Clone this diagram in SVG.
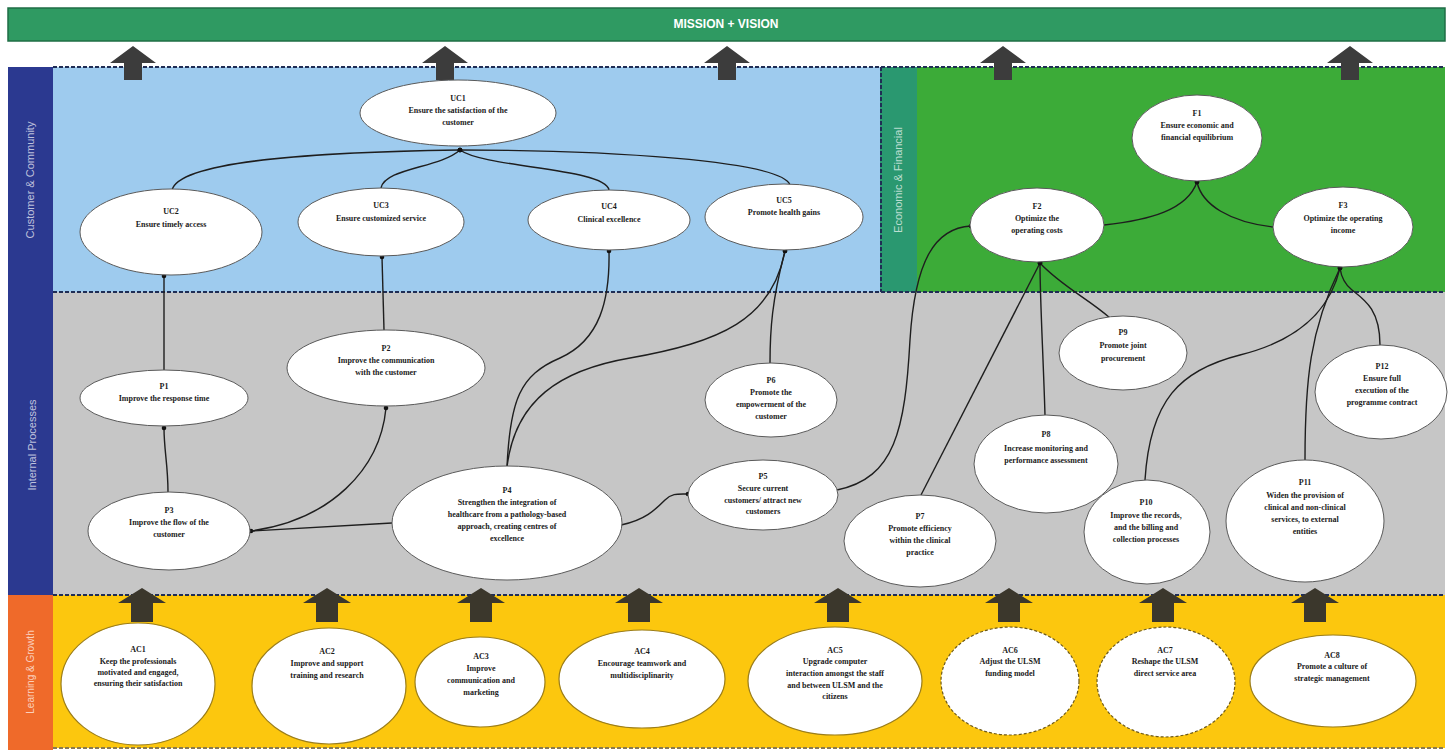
<svg xmlns="http://www.w3.org/2000/svg" width="1451" height="752" viewBox="0 0 1451 752">
<style>
.nt{font-family:"Liberation Serif","Times New Roman",serif;font-size:8px;font-weight:bold;fill:#1a1a1a;text-anchor:middle}
.bl{font-family:"Liberation Sans",Arial,sans-serif;font-size:11px;fill:#ffffff;fill-opacity:0.7;text-anchor:middle}
.el{fill:#ffffff;stroke:#5a5a5a;stroke-width:1}
.ea{fill:#ffffff;stroke:#9a7d1c;stroke-width:1.2}
.ed{fill:#ffffff;stroke:#6e5a1a;stroke-width:1.2;stroke-dasharray:3 2}
.cn{fill:none;stroke:#1e1e1e;stroke-width:1.4;marker-end:url(#dot)}
.dl{stroke:#1f2d55;stroke-width:2;stroke-dasharray:4 2;fill:none}
.ar{fill:#3c3c3c}
.ab{fill:#3b372c}
</style>
<defs>
<marker id="dot" viewBox="0 0 6 6" refX="3" refY="3" markerWidth="6" markerHeight="6" markerUnits="userSpaceOnUse"><circle cx="3" cy="3" r="2.3" fill="#111"/></marker>
</defs>
<rect width="1451" height="752" fill="#ffffff"/>
<!-- bands -->
<g id="mission">
<rect x="8" y="8" width="1437" height="33" fill="#2f9a62" stroke="#1f6e45" stroke-width="1.5"/>
<text x="726" y="28" font-family="Liberation Sans,Arial,sans-serif" font-size="12" font-weight="bold" fill="#ffffff" text-anchor="middle">MISSION + VISION</text>
</g>
<g id="band-customer">
<rect x="53" y="67" width="827" height="225" fill="#9ecbee"/>
<rect x="8" y="67" width="45" height="225" fill="#2b3990"/>
<text class="bl" transform="translate(34,180) rotate(-90)">Customer &amp; Community</text>
</g>
<g id="band-economic">
<rect x="917" y="67" width="528" height="225" fill="#3cab38"/>
<rect x="880" y="67" width="37" height="225" fill="#2a9870"/>
<text class="bl" transform="translate(902,180) rotate(-90)">Economic &amp; Financial</text>
<line x1="881" y1="67" x2="881" y2="292" class="dl"/>
</g>
<g id="band-internal">
<rect x="53" y="292" width="1392" height="303" fill="#c6c6c6"/>
<rect x="8" y="292" width="45" height="303" fill="#2b3990"/>
<text class="bl" transform="translate(36,445) rotate(-90)">Internal Processes</text>
</g>
<g id="band-learning">
<rect x="53" y="595" width="1392" height="153" fill="#fcc70e"/>
<rect x="8" y="595" width="45" height="155" fill="#ef6a2a"/>
<text class="bl" style="font-size:10px" transform="translate(34,672) rotate(-90)">Learning &amp; Growth</text>
</g>
<g id="dashes">
<line x1="53" y1="67" x2="1445" y2="67" class="dl"/>
<line x1="53" y1="292" x2="1445" y2="292" class="dl"/>
<line x1="53" y1="595" x2="1445" y2="595" class="dl"/>
<line x1="53" y1="748" x2="1445" y2="748" class="dl" style="stroke:#8a7a50"/>
</g>
<!-- big arrows -->
<g id="top-arrows">
<polygon class="ar" points="133,46 156,63 142,63 142,80 124,80 124,63 110,63"/>
<polygon class="ar" points="445,46 468,63 454,63 454,80 436,80 436,63 422,63"/>
<polygon class="ar" points="727,46 750,63 736,63 736,80 718,80 718,63 704,63"/>
<polygon class="ar" points="1003,46 1026,63 1012,63 1012,80 994,80 994,63 980,63"/>
<polygon class="ar" points="1350,46 1373,63 1359,63 1359,80 1341,80 1341,63 1327,63"/>
</g>
<g id="bottom-arrows">
<polygon class="ab" points="142,588 166,603 153,603 153,622 131,622 131,603 118,603"/>
<polygon class="ab" points="327,588 351,603 338,603 338,622 316,622 316,603 303,603"/>
<polygon class="ab" points="481,588 505,603 492,603 492,622 470,622 470,603 457,603"/>
<polygon class="ab" points="639,588 663,603 650,603 650,622 628,622 628,603 615,603"/>
<polygon class="ab" points="838,588 862,603 849,603 849,622 827,622 827,603 814,603"/>
<polygon class="ab" points="1009,588 1033,603 1020,603 1020,622 998,622 998,603 985,603"/>
<polygon class="ab" points="1163,588 1187,603 1174,603 1174,622 1152,622 1152,603 1139,603"/>
<polygon class="ab" points="1315,588 1339,603 1326,603 1326,622 1304,622 1304,603 1291,603"/>
</g>
<!-- connectors -->
<g id="connectors">
<path class="cn" d="M172,190 C180,160 320,152 460,150"/>
<path class="cn" d="M381,188 C385,168 440,168 460,150"/>
<path class="cn" d="M609,190 C605,168 485,168 460,150"/>
<path class="cn" d="M790,185 C782,160 600,150 460,150"/>
<path class="cn" d="M164,370 L164,276"/>
<path class="cn" d="M384,330 L382,257"/>
<path class="cn" d="M507,467 C510,400 520,375 560,358 C600,340 610,300 609,251"/>
<path class="cn" d="M507,467 C515,400 560,370 630,358 C720,342 772,320 785,251"/>
<path class="cn" d="M770,363 C770,330 772,300 785,251"/>
<path class="cn" d="M168,492 C168,465 164,450 164,428"/>
<path class="cn" d="M392,523 L251,531"/>
<path class="cn" d="M251,531 C330,520 380,470 386,408"/>
<path class="cn" d="M621,525 C645,520 655,510 665,500 C672,493 678,494 688,494"/>
<path class="cn" d="M837,490 C895,478 905,430 910,340 C915,260 935,228 971,226"/>
<path class="cn" d="M921,495 L1040,263"/>
<path class="cn" d="M1045,415 C1043,350 1040,300 1040,263"/>
<path class="cn" d="M1110,318 C1090,300 1060,285 1040,263"/>
<path class="cn" d="M1145,480 C1150,400 1180,370 1240,355 C1300,340 1330,310 1340,268"/>
<path class="cn" d="M1305,460 C1305,380 1310,330 1340,268"/>
<path class="cn" d="M1380,345 C1380,310 1365,300 1352,290 C1343,283 1341,275 1340,268"/>
<path class="cn" d="M1104,225 C1150,220 1187,210 1197,182"/>
<path class="cn" d="M1273,227 C1230,222 1202,205 1197,182"/>
</g>
<!-- customer nodes -->
<g id="UC1"><ellipse class="el" cx="458" cy="113" rx="98" ry="33"/><text class="nt" x="458" y="101">UC1</text><text class="nt" x="458" y="113">Ensure the satisfaction of the</text><text class="nt" x="458" y="125">customer</text></g>
<g id="UC2"><ellipse class="el" cx="171" cy="232" rx="91" ry="43"/><text class="nt" x="171" y="214">UC2</text><text class="nt" x="171" y="227">Ensure timely access</text></g>
<g id="UC3"><ellipse class="el" cx="381" cy="222" rx="83" ry="34"/><text class="nt" x="381" y="208">UC3</text><text class="nt" x="381" y="221">Ensure customized service</text></g>
<g id="UC4"><ellipse class="el" cx="609" cy="220" rx="81" ry="30"/><text class="nt" x="609" y="209">UC4</text><text class="nt" x="609" y="222">Clinical excellence</text></g>
<g id="UC5"><ellipse class="el" cx="784" cy="217" rx="79" ry="33"/><text class="nt" x="784" y="203">UC5</text><text class="nt" x="784" y="215">Promote health gains</text></g>
<!-- financial nodes -->
<g id="F1"><ellipse class="el" cx="1197" cy="138" rx="65" ry="43"/><text class="nt" x="1197" y="116">F1</text><text class="nt" x="1197" y="128">Ensure economic and</text><text class="nt" x="1197" y="140">financial equilibrium</text></g>
<g id="F2"><ellipse class="el" cx="1037" cy="225" rx="67" ry="37"/><text class="nt" x="1037" y="209">F2</text><text class="nt" x="1037" y="221">Optimize the</text><text class="nt" x="1037" y="233">operating costs</text></g>
<g id="F3"><ellipse class="el" cx="1343" cy="227" rx="70" ry="40"/><text class="nt" x="1343" y="208">F3</text><text class="nt" x="1343" y="221">Optimize the operating</text><text class="nt" x="1343" y="233">income</text></g>
<!-- internal nodes -->
<g id="P1"><ellipse class="el" cx="164" cy="398" rx="84" ry="28"/><text class="nt" x="164" y="389">P1</text><text class="nt" x="164" y="401">Improve the response time</text></g>
<g id="P2"><ellipse class="el" cx="386" cy="368" rx="99" ry="38"/><text class="nt" x="386" y="351">P2</text><text class="nt" x="386" y="363">Improve the communication</text><text class="nt" x="386" y="375">with the customer</text></g>
<g id="P3"><ellipse class="el" cx="169" cy="531" rx="81" ry="39"/><text class="nt" x="169" y="513">P3</text><text class="nt" x="169" y="525">Improve the flow of the</text><text class="nt" x="169" y="537">customer</text></g>
<g id="P4"><ellipse class="el" cx="507" cy="523" rx="115" ry="57"/><text class="nt" x="507" y="493">P4</text><text class="nt" x="507" y="505">Strengthen the integration of</text><text class="nt" x="507" y="517">healthcare from a pathology-based</text><text class="nt" x="507" y="529">approach, creating centres of</text><text class="nt" x="507" y="541">excellence</text></g>
<g id="P5"><ellipse class="el" cx="763" cy="495" rx="75" ry="35"/><text class="nt" x="763" y="479">P5</text><text class="nt" x="763" y="491">Secure current</text><text class="nt" x="763" y="503">customers/ attract new</text><text class="nt" x="763" y="514">customers</text></g>
<g id="P6"><ellipse class="el" cx="771" cy="400" rx="66" ry="37"/><text class="nt" x="771" y="383">P6</text><text class="nt" x="771" y="395">Promote the</text><text class="nt" x="771" y="407">empowerment of the</text><text class="nt" x="771" y="419">customer</text></g>
<g id="P7"><ellipse class="el" cx="920" cy="541" rx="76" ry="46"/><text class="nt" x="920" y="519">P7</text><text class="nt" x="920" y="531">Promote efficiency</text><text class="nt" x="920" y="543">within the clinical</text><text class="nt" x="920" y="555">practice</text></g>
<g id="P8"><ellipse class="el" cx="1046" cy="464" rx="72" ry="49"/><text class="nt" x="1046" y="437">P8</text><text class="nt" x="1046" y="451">Increase monitoring and</text><text class="nt" x="1046" y="463">performance assessment</text></g>
<g id="P9"><ellipse class="el" cx="1123" cy="353" rx="64" ry="37"/><text class="nt" x="1123" y="335">P9</text><text class="nt" x="1123" y="348">Promote joint</text><text class="nt" x="1123" y="361">procurement</text></g>
<g id="P10"><ellipse class="el" cx="1147" cy="532" rx="63" ry="52"/><text class="nt" x="1146" y="505">P10</text><text class="nt" x="1146" y="518">Improve the records,</text><text class="nt" x="1146" y="530">and the billing and</text><text class="nt" x="1146" y="542">collection processes</text></g>
<g id="P11"><ellipse class="el" cx="1305" cy="521" rx="79" ry="61"/><text class="nt" x="1305" y="485">P11</text><text class="nt" x="1305" y="498">Widen the provision of</text><text class="nt" x="1305" y="510">clinical and non-clinical</text><text class="nt" x="1305" y="522">services, to external</text><text class="nt" x="1305" y="534">entities</text></g>
<g id="P12"><ellipse class="el" cx="1381" cy="392" rx="66" ry="47"/><text class="nt" x="1382" y="369">P12</text><text class="nt" x="1382" y="381">Ensure full</text><text class="nt" x="1382" y="393">execution of the</text><text class="nt" x="1382" y="405">programme contract</text></g>
<!-- learning nodes -->
<g id="AC1"><ellipse class="ea" cx="138" cy="684" rx="77" ry="61"/><text class="nt" x="138" y="652">AC1</text><text class="nt" x="138" y="664">Keep the professionals</text><text class="nt" x="138" y="675">motivated and engaged,</text><text class="nt" x="138" y="686">ensuring their satisfaction</text></g>
<g id="AC2"><ellipse class="ea" cx="329" cy="686" rx="77" ry="58"/><text class="nt" x="327" y="654">AC2</text><text class="nt" x="327" y="666">Improve and support</text><text class="nt" x="327" y="678">training and research</text></g>
<g id="AC3"><ellipse class="ea" cx="480" cy="682" rx="65" ry="45"/><text class="nt" x="481" y="659">AC3</text><text class="nt" x="481" y="671">Improve</text><text class="nt" x="481" y="683">communication and</text><text class="nt" x="481" y="695">marketing</text></g>
<g id="AC4"><ellipse class="ea" cx="642" cy="679" rx="83" ry="49"/><text class="nt" x="642" y="654">AC4</text><text class="nt" x="642" y="666">Encourage teamwork and</text><text class="nt" x="642" y="678">multidisciplinarity</text></g>
<g id="AC5"><ellipse class="ea" cx="835" cy="681" rx="87" ry="54"/><text class="nt" x="835" y="653">AC5</text><text class="nt" x="835" y="664">Upgrade computer</text><text class="nt" x="835" y="676">interaction amongst the staff</text><text class="nt" x="835" y="688">and between ULSM and the</text><text class="nt" x="835" y="699">citizens</text></g>
<g id="AC6"><ellipse class="ed" cx="1010" cy="681" rx="69" ry="54"/><text class="nt" x="1010" y="653">AC6</text><text class="nt" x="1010" y="664">Adjust the ULSM</text><text class="nt" x="1010" y="676">funding model</text></g>
<g id="AC7"><ellipse class="ed" cx="1166" cy="682" rx="69" ry="55"/><text class="nt" x="1165" y="653">AC7</text><text class="nt" x="1165" y="664">Reshape the ULSM</text><text class="nt" x="1165" y="676">direct service area</text></g>
<g id="AC8"><ellipse class="ea" cx="1333" cy="681" rx="83" ry="46"/><text class="nt" x="1332" y="658">AC8</text><text class="nt" x="1332" y="669">Promote a culture of</text><text class="nt" x="1332" y="681">strategic management</text></g>
</svg>
